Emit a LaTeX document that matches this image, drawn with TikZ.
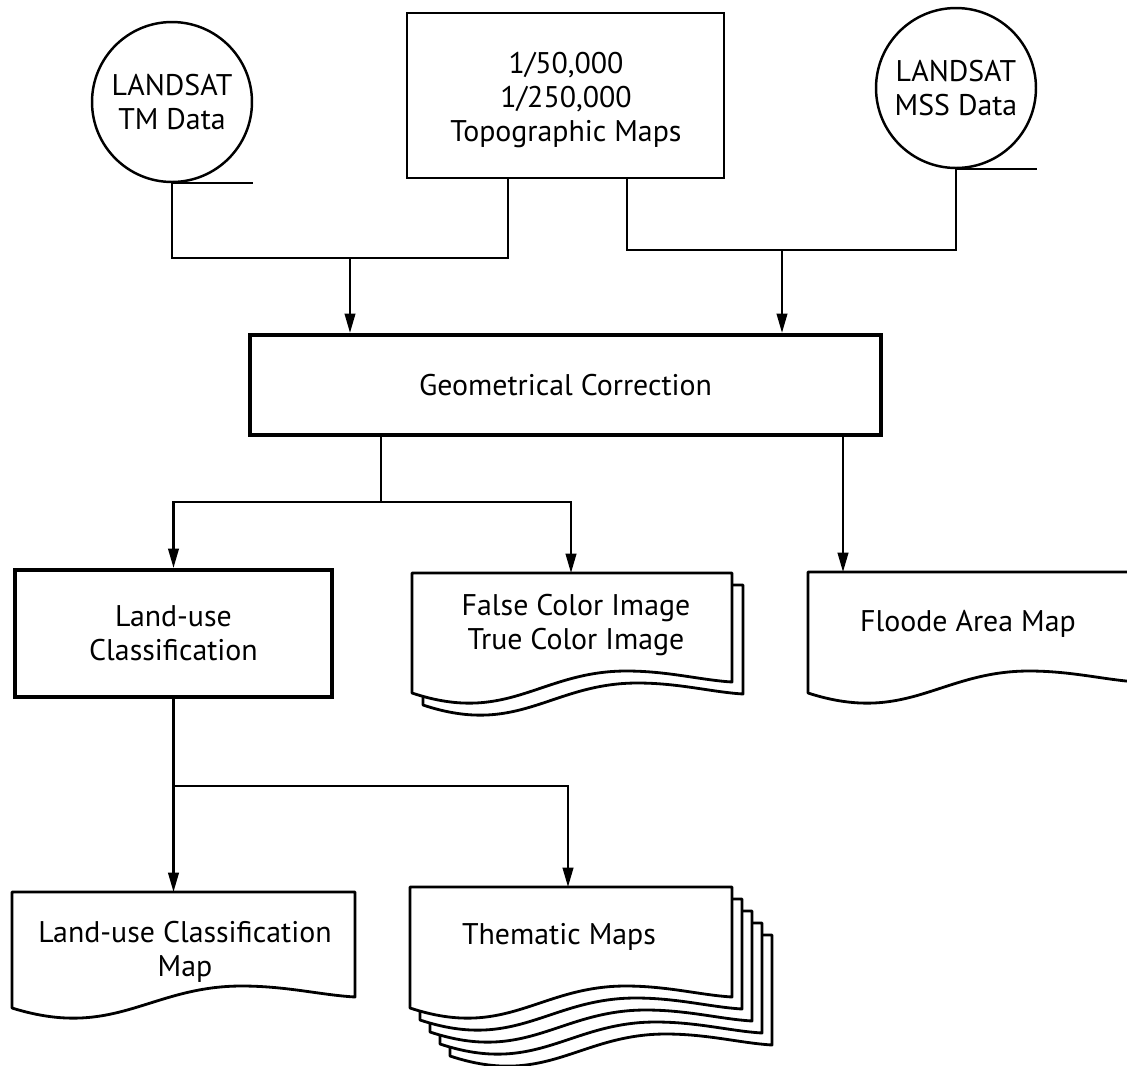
\documentclass[tikz,border=0pt]{standalone}
\usepackage{fontspec}
\setmainfont{PT Sans}
\usetikzlibrary{arrows.meta,calc}
\newcommand\lbl{\fontsize{17}{19.5}\selectfont}
\tikzset{
  line/.style={line width=1.3pt},
  arr/.style={line width=1.3pt,-{Triangle[length=11pt,width=6pt]}},
  thickbox/.style={draw,rectangle,line width=2.4pt,align=center,font=\lbl,inner sep=0pt},
  thinbox/.style={draw,rectangle,line width=1.4pt,align=center,font=\lbl,inner sep=0pt},
  tape/.style={draw,circle,line width=1.4pt,minimum size=3.2cm,inner sep=0pt,align=center,font=\lbl},
  doc/.style={draw,line width=1.6pt,fill=white,line join=round},
  doctext/.style={align=center,font=\lbl,inner sep=0pt},
}
% x1, y1 (top), x2, yb (left bottom), style
\newcommand\docshape[5]{%
  \path[#5] (#1,#2) -- (#3,#2) -- (#3,{(#4)-11})
    .. controls ({(#1)+0.9*((#3)-(#1))},{(#4)-13}) and ({(#1)+0.8*((#3)-(#1))},{(#4)-22}) .. ({(#1)+0.67*((#3)-(#1))},{(#4)-22})
    .. controls ({(#1)+0.4*((#3)-(#1))},{(#4)-22}) and ({(#1)+0.3*((#3)-(#1))},{(#4)+32}) .. (#1,#4) -- cycle;}
\begin{document}
\begin{tikzpicture}[x=0.02cm,y=-0.02cm]
\useasboundingbox (0,0) rectangle (1127,1066);
\clip (0,0) rectangle (1127,1066);

% sources
\node[tape] (tm) at (172,102) {LANDSAT\\TM Data};
\draw[line] (tm.south) -- ++(81,0);
\node[tape] (mss) at (956,88) {LANDSAT\\MSS Data};
\draw[line] (mss.south) -- ++(81,0);
\node[thinbox,minimum width=6.34cm,minimum height=3.3cm] (topo) at (565.5,95.5) {};
\node[doctext] (topotext) at (566,100) {1/50,000\\1/250,000\\Topographic Maps};

% processes
\node[thickbox,minimum width=12.62cm,minimum height=2cm] (gc) at (565.5,385) {Geometrical Correction};
\node[thickbox,minimum width=6.34cm,minimum height=2.54cm] (lu) at (173.5,633.5) {Land-use\\Classification};

% documents
\docshape{423}{585}{743}{705}{doc}
\docshape{412}{573}{732}{693}{doc}
\node[doctext] (fc) at (576,625) {False Color Image\\True Color Image};

\docshape{808}{572}{1138}{693}{doc}
\node[doctext] (fl) at (968,624) {Floode Area Map};

\docshape{12}{892}{355}{1008}{doc}
\node[doctext] (lum) at (185,952) {Land-use Classification\\Map};

\docshape{450}{935}{772}{1056}{doc}
\docshape{440}{923}{762}{1044}{doc}
\docshape{430}{911}{752}{1032}{doc}
\docshape{420}{899}{742}{1020}{doc}
\docshape{410}{887}{732}{1008}{doc}
\node[doctext] (th) at (559,937) {Thematic Maps};

% connectors
\coordinate (j1) at (350,258);
\coordinate (topoL) at (508,178);
\coordinate (topoR) at (627,178);
\coordinate (j2) at (782,250);
\draw[line] (tm.south) |- (j1) -| (topoL);
\draw[arr] (j1) -- (j1 |- gc.north);
\draw[line] (topoR) |- (j2) -| (mss.south);
\draw[arr] (j2) -- (j2 |- gc.north);

\coordinate (j3) at (381,502);
\coordinate (fcTop) at (571,573);
\coordinate (flTop) at (843,572);
\draw[line] (j3 |- gc.south) -- (j3);
\draw[arr] (j3) -| (lu.north);
\draw[arr] (j3) -| (fcTop);
\draw[arr] (flTop |- gc.south) -- (flTop);

\coordinate (j4) at (173.5,786);
\coordinate (lumTop) at (173.5,892);
\coordinate (thTop) at (568,887);
\draw[line] (lu.south) -- (j4);
\draw[arr] (j4) -- (lumTop);
\draw[arr] (j4) -| (thTop);
\end{tikzpicture}
\end{document}
